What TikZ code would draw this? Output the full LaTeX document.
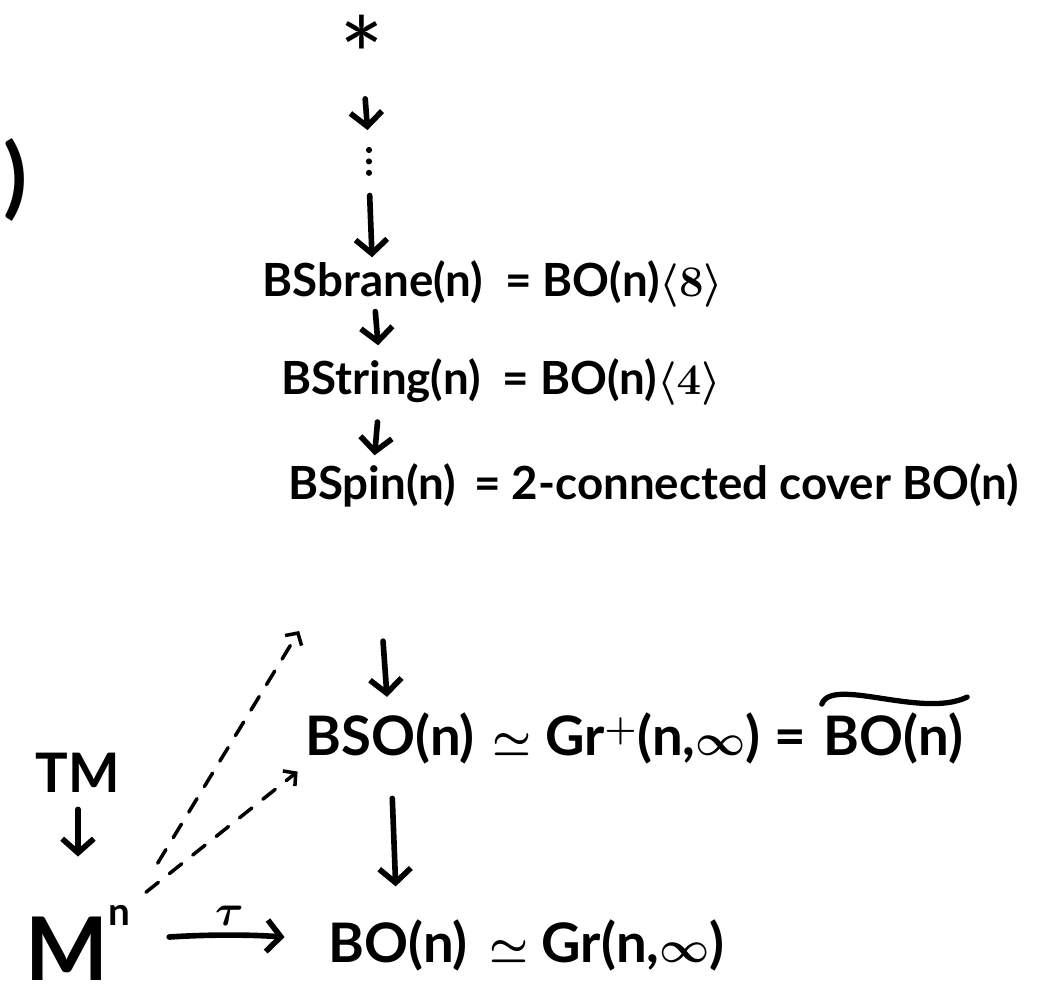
\documentclass[tikz,border=0pt]{standalone}
\usepackage{fontspec}
\setmainfont{Lato}
\usetikzlibrary{arrows.meta, positioning}

\begin{document}
\begin{tikzpicture}[
    x=0.02cm, y=-0.02cm,
    every node/.style={inner sep=2pt},
    term/.style={font=\fontsize{26}{32}\selectfont\bfseries\boldmath},
    bigterm/.style={font=\fontsize{31}{38}\selectfont\bfseries\boldmath},
    arr/.style={
        -{Straight Barb[length=8pt,width=18pt]},
        line width=3.2pt, line cap=round
    },
    dasharr/.style={
        dash pattern=on 9pt off 8pt,
        -{Straight Barb[length=5pt,width=11pt]},
        line width=2pt, line cap=round
    },
    dotline/.style={
        dash pattern=on 0pt off 6.5pt,
        line width=3.5pt, line cap=round
    },
    tld/.style={line width=3pt, line cap=round}
]
\useasboundingbox (0,0) rectangle (1046,1003);

%% ── Top of the tower ────────────────────────────────────────────────
\node[font=\fontsize{60}{60}\selectfont, anchor=base] (ast) at (362,95) {*};
\node[font=\fontsize{50}{52}\selectfont\bfseries, anchor=east, inner sep=0pt] (paren) at (28,180) {)};

\coordinate (dotA) at (369,150);
\coordinate (dotB) at (369,178);

\draw[arr, shorten >=0.4cm] (ast) -- (dotA);
\draw[dotline] (dotA) -- (dotB);

%% ── Tower rows ──────────────────────────────────────────────────────
\node[term, anchor=base] (bfive) at (373,297) {BSbrane(n)};
\node[term, base right=8pt of bfive] (bfiveR) {= BO(n)$\langle 8\rangle$};

\node[term, anchor=base] (bstr) at (381,395) {BString(n)};
\node[term, base right=8pt of bstr] (bstrR) {= BO(n)$\langle 4\rangle$};

\node[term, anchor=base] (bspin) at (372,500) {BSpin(n)};
\node[term, base right=6pt of bspin] (bspinR) {= 2-connected cover BO(n)};

\node[bigterm, anchor=base] (bso) at (390,756) {BSO(n)};
\node[bigterm, base right=6pt of bso] (bsoR) {$\simeq$ Gr$^+$(n,$\infty$) =};
\node[bigterm, base right=6pt of bsoR] (tbo) {BO(n)};
\draw[tld] ([xshift=1pt,yshift=3pt]tbo.north west)
    .. controls +(10,-28) and +(-45,22) .. ([yshift=7pt]tbo.north east);

\node[bigterm, anchor=base] (bo) at (398,963) {BO(n)};
\node[bigterm, base right=8pt of bo] (boR) {$\simeq$ Gr(n,$\infty$)};

\draw[arr, shorten <=0.35cm] (dotB) -- (bfive);
\draw[arr, shorten <=2pt, shorten >=0.2cm] (bfive) -- (bstr);
\draw[arr, shorten <=0.3cm, shorten >=0.1cm] (bstr) -- (bspin);
\draw[arr, shorten <=2.6cm, shorten >=0.25cm] (bspin) -- (bso);
\draw[arr, shorten <=0.6cm, shorten >=0.6cm] (bso) -- (bo);

%% ── Manifold side ───────────────────────────────────────────────────
\node[bigterm, anchor=base] (tm) at (78,793) {TM};
\node[font=\fontsize{50}{54}\selectfont\bfseries, anchor=base] (mn) at (78,980)
    {M\raisebox{0.62em}{\fontsize{22}{24}\selectfont n}};

\draw[arr, shorten <=0.25cm, shorten >=0.9cm] (tm) -- (mn);
\draw[arr, shorten <=0.7cm, shorten >=0.8cm] (mn) to[bend left=4]
    node[above=2pt, font=\fontsize{34}{36}\selectfont\boldmath] (tau) {$\tau$} (bo);

%% ── Lifts ───────────────────────────────────────────────────────────
\draw[dasharr, shorten <=0.9cm, shorten >=2.8cm] (mn.north east) -- (bspin.south);
\draw[dasharr, shorten <=0.3cm, shorten >=0.1cm] (mn.north east) -- (bso.south west);

\end{tikzpicture}
\end{document}
